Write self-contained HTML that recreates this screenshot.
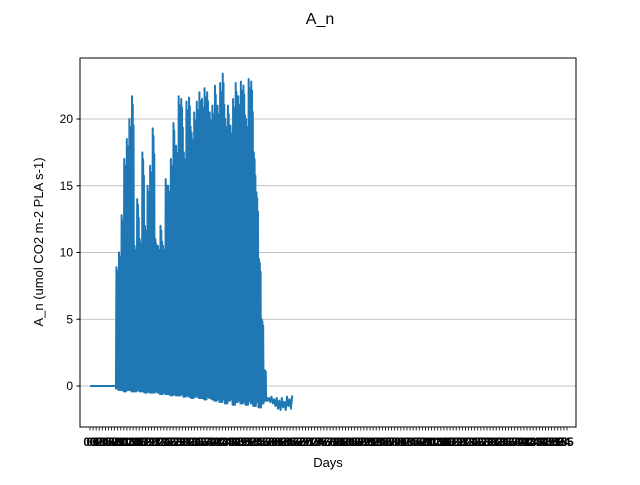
<!DOCTYPE html>
<html><head><meta charset="utf-8"><style>
body{margin:0;background:#fff}
svg{font-family:"Liberation Sans","DejaVu Sans",sans-serif}
</style></head><body>
<svg width="640" height="480" xmlns="http://www.w3.org/2000/svg">
<rect width="640" height="480" fill="#fff"/>
<text x="320" y="24" text-anchor="middle" font-size="16">A_n</text>
<g id="grid"></g>
<g id="plot"></g>
<rect x="80" y="58" width="496" height="369" fill="none" stroke="#000" stroke-width="1"/>
<g id="yaxis"></g>
<g id="xaxis"></g>
<text x="328" y="467" text-anchor="middle" font-size="13">Days</text>
<text transform="translate(43,242) rotate(-90)" text-anchor="middle" font-size="13">A_n (umol CO2 m-2 PLA s-1)</text>
</svg>
<script>
const yTicks=[0,5,10,15,20];
const flatDays=10;
const dailyMax=[8.9,10,12.8,17,18.5,20,21.7,10.5,14,11,17.5,12,15,16.5,19.3,11,10.5,12,10.5,15.5,15,17,19.7,18,21.7,21.5,17.5,21.3,21.6,19,20.5,21.3,22,21.5,22.3,22,20.5,21,22.5,21,22.7,23.4,20,21,19.5,21.5,22.7,21.7,22.8,22.5,20,23,22.8,17.5,14.5,9.5,5,1.2];
const dailyMin=[-0.2,-0.3,-0.3,-0.4,-0.3,-0.3,-0.4,-0.4,-0.3,-0.4,-0.4,-0.5,-0.4,-0.5,-0.5,-0.4,-0.5,-0.6,-0.5,-0.6,-0.6,-0.7,-0.6,-0.7,-0.7,-0.6,-0.8,-0.7,-0.8,-0.9,-0.8,-0.8,-0.9,-0.9,-1.0,-0.8,-0.9,-1.0,-1.1,-1.0,-1.2,-1.0,-1.3,-1.1,-1.0,-1.4,-1.2,-1.1,-1.3,-1.2,-1.4,-1.1,-1.3,-1.5,-1.2,-1.6,-1.3,-1.1];
const tailVals=[-0.8,-1.1,-0.9,-1.2,-0.8,-1.3,-1.0,-1.5,-0.9,-1.7,-1.1,-1.8,-0.9,-1.6,-1.2,-1.8,-0.8,-1.5,-1.0,-1.7,-0.7];
const xMaxDay=184;
const NS='http://www.w3.org/2000/svg';
const X=d=>90+d*(567-90)/xMaxDay;
const Y=v=>386-v*13.35;
const grid=document.getElementById('grid'),ya=document.getElementById('yaxis'),xa=document.getElementById('xaxis'),plot=document.getElementById('plot');
yTicks.forEach(t=>{
 const g=document.createElementNS(NS,'line');
 g.setAttribute('x1',80);g.setAttribute('x2',576);g.setAttribute('y1',Y(t));g.setAttribute('y2',Y(t));
 g.setAttribute('stroke','#b0b0b0');g.setAttribute('stroke-width','0.8');
 
 
 grid.appendChild(g);
 const tk=document.createElementNS(NS,'line');
 tk.setAttribute('x1',76.5);tk.setAttribute('x2',80);tk.setAttribute('y1',Y(t));tk.setAttribute('y2',Y(t));tk.setAttribute('stroke','#000');
 
 
 ya.appendChild(tk);
 const tx=document.createElementNS(NS,'text');
 tx.setAttribute('x',73);tx.setAttribute('y',Y(t)+4);tx.setAttribute('text-anchor','end');tx.setAttribute('font-size','12');tx.textContent=t;
 
 
 ya.appendChild(tx);
});
const nT=156;
for(let i=0;i<nT;i++){
 const x=90+i*(567-90)/(nT-1);
 const tk=document.createElementNS(NS,'line');
 tk.setAttribute('x1',x);tk.setAttribute('x2',x);tk.setAttribute('y1',427);tk.setAttribute('y2',430.5);tk.setAttribute('stroke','#000');tk.setAttribute('stroke-width','0.8');
 
 
 xa.appendChild(tk);
 const tx=document.createElementNS(NS,'text');
 tx.setAttribute('x',x);tx.setAttribute('y',446);tx.setAttribute('text-anchor','middle');tx.setAttribute('font-size','12');tx.setAttribute('font-weight','bold');tx.textContent=String(i%100).padStart(2,'0');
 
 
 xa.appendChild(tx);
}
let pts=[[X(0),Y(0)],[X(flatDays),Y(0)]];
dailyMax.forEach((m,i)=>{
 const d=flatDays+i;
 pts.push([X(d),Y(dailyMin[i])]);
 pts.push([X(d+0.2),Y(m)]);
 pts.push([X(d+0.35),Y(dailyMin[i])]);
 pts.push([X(d+0.5),Y(m*0.97)]);
 pts.push([X(d+0.65),Y(dailyMin[i])]);
 pts.push([X(d+0.8),Y(m*0.9)]);
 pts.push([X(d+0.95),Y(dailyMin[i])]);
});
const t0=flatDays+dailyMax.length;
tailVals.forEach((v,i)=>pts.push([X(t0+i*0.5),Y(v)]));
const pl=document.createElementNS(NS,'polyline');
pl.setAttribute('points',pts.map(p=>p[0].toFixed(2)+','+p[1].toFixed(2)).join(' '));
pl.setAttribute('fill','none');pl.setAttribute('stroke','#1f77b4');pl.setAttribute('stroke-width','2');pl.setAttribute('stroke-linejoin','round');


plot.appendChild(pl);
</script>
</body></html>
